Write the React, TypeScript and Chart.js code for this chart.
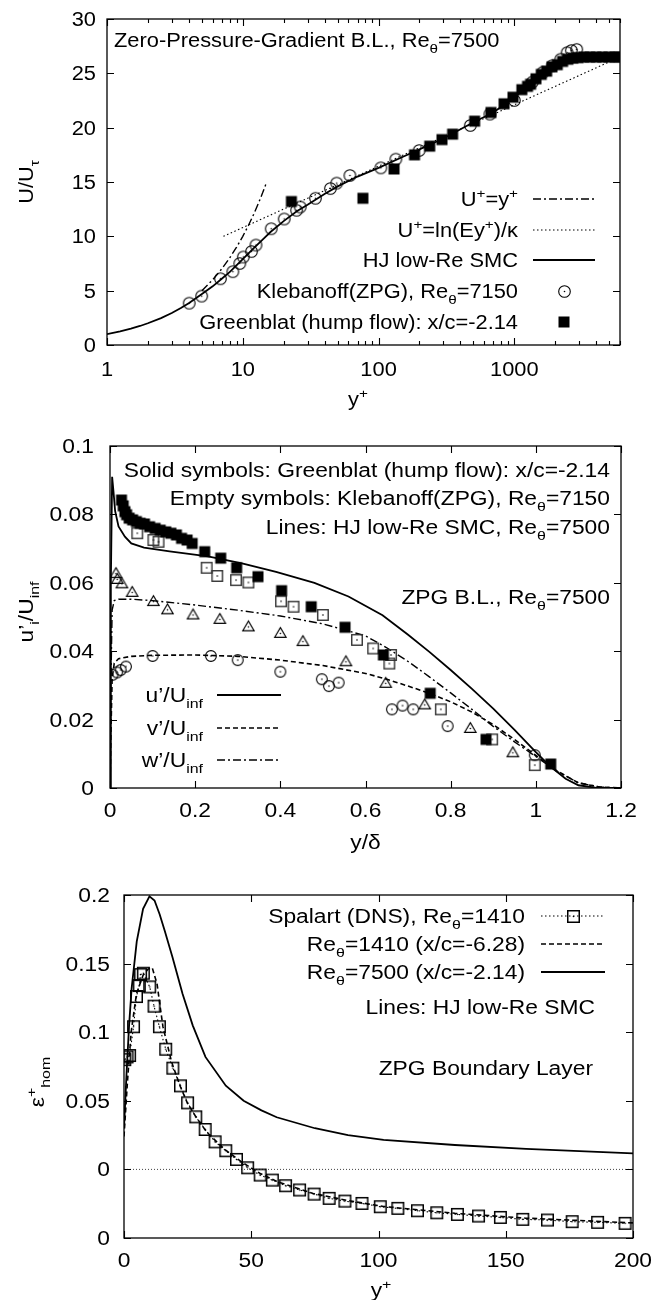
import React, { useEffect, useRef } from "react";
import { Chart, registerables } from "chart.js";
Chart.register(...registerables);

const FONT_FAMILY = '"Liberation Sans", Arial, Helvetica, sans-serif';
const F1 = { size: 19.5, sx: 1.12 };
const F23 = { size: 19.5, sx: 1.17 };

// ---------------- Panel 1 : mean velocity ----------------
const P1_X_TICKS = [1, 10, 100, 1000];
const P1_X_LABELS = ["1", "10", "100", "1000"];
const P1_Y_TICKS = [0, 5, 10, 15, 20, 25, 30];
const P1_Y_LABELS = ["0", "5", "10", "15", "20", "25", "30"];

const P1_SMC_X = [1, 1.25, 1.5, 1.75, 2, 2.5, 3, 3.5, 4, 5, 6, 7, 8, 10, 12, 14, 16, 20, 25, 30, 40, 50, 70, 100, 150, 200, 300, 500, 700, 1000, 1500, 2000, 2500, 3000, 4000, 6000];
const P1_SMC_U = [1.0, 1.25, 1.5, 1.75, 2.0, 2.48, 2.95, 3.4, 3.85, 4.7, 5.4, 6.1, 6.7, 7.9, 8.9, 9.7, 10.4, 11.4, 12.3, 12.9, 13.9, 14.6, 15.5, 16.3, 17.3, 18.0, 19.0, 20.5, 21.4, 22.8, 24.6, 25.6, 26.2, 26.45, 26.55, 26.55];

const P1_LIN_X = [5, 6, 7, 8, 9, 10, 11, 12, 13, 14, 15];
const P1_LIN_U = [5, 6, 7, 8, 9, 10, 11, 12, 13, 14, 15];

const P1_LOG_X = [7.2, 6000];
const P1_LOG_U = [10.0, 26.5];

const P1_KLEB_X = [4.03, 4.98, 6.85, 8.45, 9.5, 10.1, 11.6, 12.5, 16.2, 20.2, 24.9, 26.5, 34.3, 44.2, 49.2, 61.5, 104, 134, 199, 474, 661, 1000, 1360, 1626, 1900, 2198, 2450, 2630, 2880];
const P1_KLEB_U = [3.85, 4.5, 6.1, 6.75, 7.5, 8.1, 8.6, 9.2, 10.7, 11.6, 12.4, 12.7, 13.5, 14.4, 14.9, 15.6, 16.3, 17.1, 17.9, 20.2, 21.25, 22.5, 24.2, 25.1, 25.7, 26.3, 26.9, 27.1, 27.2];

const P1_GREEN_X = [22.8, 76.7, 130, 184, 238, 293, 351, 510, 673, 840, 977, 1136, 1250, 1318, 1443, 1579, 1729, 1893, 2072, 2267, 2480, 2700, 2950, 3250, 3600, 4000, 4450, 4950, 5500, 5900];
const P1_GREEN_U = [13.2, 13.5, 16.2, 17.5, 18.3, 18.9, 19.4, 20.6, 21.4, 22.2, 22.8, 23.5, 23.8, 24.0, 24.5, 24.9, 25.2, 25.6, 25.8, 26.1, 26.3, 26.4, 26.45, 26.5, 26.5, 26.5, 26.5, 26.5, 26.5, 26.5];

// ---------------- Panel 2 : rms fluctuations ----------------
const P2_X_TICKS = [0, 0.2, 0.4, 0.6, 0.8, 1.0, 1.2];
const P2_X_LABELS = ["0", "0.2", "0.4", "0.6", "0.8", "1", "1.2"];
const P2_Y_TICKS = [0, 0.02, 0.04, 0.06, 0.08, 0.1];
const P2_Y_LABELS = ["0", "0.02", "0.04", "0.06", "0.08", "0.1"];

const P2_U_X = [0, 0.002, 0.005, 0.008, 0.012, 0.02, 0.035, 0.05, 0.08, 0.14, 0.23, 0.31, 0.39, 0.48, 0.56, 0.64, 0.7, 0.75, 0.8, 0.85, 0.9, 0.95, 1.0, 1.035, 1.07, 1.1, 1.14, 1.2];
const P2_U_Y = [0, 0.06, 0.091, 0.087, 0.081, 0.0765, 0.0735, 0.0715, 0.0703, 0.0692, 0.0677, 0.0657, 0.0632, 0.06, 0.056, 0.0505, 0.0448, 0.0398, 0.0345, 0.029, 0.0232, 0.017, 0.0105, 0.0062, 0.0027, 0.0008, 0.0001, 0];

const P2_V_X = [0, 0.002, 0.005, 0.01, 0.02, 0.05, 0.1, 0.2, 0.3, 0.4, 0.5, 0.6, 0.65, 0.7, 0.75, 0.8, 0.85, 0.9, 0.95, 1.0, 1.05, 1.1, 1.15, 1.2];
const P2_V_Y = [0, 0.015, 0.032, 0.0365, 0.0378, 0.0385, 0.0388, 0.0389, 0.0385, 0.0374, 0.0358, 0.0335, 0.0318, 0.0298, 0.0277, 0.0252, 0.0222, 0.0185, 0.0142, 0.0095, 0.005, 0.0015, 0.0003, 0];

const P2_W_X = [0, 0.002, 0.005, 0.01, 0.02, 0.05, 0.1, 0.2, 0.3, 0.4, 0.5, 0.6, 0.65, 0.7, 0.75, 0.8, 0.85, 0.9, 0.95, 1.0, 1.05, 1.1, 1.15, 1.2];
const P2_W_Y = [0, 0.03, 0.052, 0.0548, 0.0552, 0.0552, 0.0548, 0.0535, 0.052, 0.0503, 0.048, 0.0445, 0.041, 0.037, 0.0325, 0.0278, 0.023, 0.018, 0.0135, 0.0092, 0.0048, 0.0015, 0.0003, 0];

const P2_GREEN_X = [0.027, 0.031, 0.035, 0.039, 0.045, 0.053, 0.062, 0.071, 0.081, 0.093, 0.106, 0.118, 0.131, 0.143, 0.156, 0.168, 0.181, 0.193, 0.2225, 0.26, 0.2975, 0.3475, 0.403, 0.4725, 0.552, 0.642, 0.752, 0.883, 1.035];
const P2_GREEN_Y = [0.0842, 0.0825, 0.0808, 0.0799, 0.0789, 0.0784, 0.0779, 0.0774, 0.0772, 0.0764, 0.0759, 0.0754, 0.0749, 0.0745, 0.074, 0.073, 0.0725, 0.0715, 0.0691, 0.0672, 0.0644, 0.0618, 0.0577, 0.053, 0.047, 0.0389, 0.0277, 0.0142, 0.007];

const P2_KU_X = [0.064, 0.102, 0.114, 0.227, 0.252, 0.296, 0.325, 0.4017, 0.431, 0.5, 0.58, 0.618, 0.66, 0.656, 0.777, 0.8975, 0.9975];
const P2_KU_Y = [0.0745, 0.0725, 0.072, 0.0644, 0.062, 0.0608, 0.0601, 0.0546, 0.053, 0.0506, 0.0433, 0.0408, 0.0389, 0.0364, 0.023, 0.0142, 0.0067];

const P2_KW_X = [0.014, 0.017, 0.028, 0.052, 0.102, 0.135, 0.195, 0.258, 0.325, 0.4, 0.453, 0.554, 0.6475, 0.739, 0.846, 0.946];
const P2_KW_Y = [0.0627, 0.061, 0.0597, 0.0572, 0.0545, 0.0521, 0.0506, 0.0493, 0.0471, 0.0452, 0.0428, 0.0369, 0.0306, 0.0243, 0.0174, 0.0103];

const P2_KV_X = [0.006, 0.0167, 0.025, 0.0375, 0.1, 0.237, 0.3, 0.4, 0.4975, 0.514, 0.537, 0.662, 0.687, 0.712, 0.793, 0.9975];
const P2_KV_Y = [0.0331, 0.0338, 0.0345, 0.0355, 0.0386, 0.0386, 0.0374, 0.034, 0.0318, 0.0298, 0.0308, 0.023, 0.0241, 0.023, 0.0181, 0.0096];

// ---------------- Panel 3 : dissipation ----------------
const P3_X_TICKS = [0, 50, 100, 150, 200];
const P3_X_LABELS = ["0", "50", "100", "150", "200"];
const P3_Y_TICKS = [-0.05, 0, 0.05, 0.1, 0.15, 0.2];
const P3_Y_LABELS = ["0", "0", "0.05", "0.1", "0.15", "0.2"];

const P3_DNS_X = [0.3, 1.2, 2.2, 3.75, 4.9, 6, 6.5, 7.6, 10.1, 11.8, 13.9, 16.4, 19.2, 22.2, 25, 28.2, 31.9, 35.8, 40, 44.2, 48.6, 53.5, 58.3, 63.5, 69, 74.7, 80.6, 86.8, 93.5, 100.7, 107.6, 115.3, 122.9, 131, 139.3, 147.9, 156.7, 166.4, 176.1, 186.1, 196.9];
const P3_DNS_Y = [0.08, 0.082, 0.083, 0.104, 0.126, 0.134, 0.142, 0.143, 0.133, 0.119, 0.104, 0.0876, 0.0738, 0.0609, 0.0485, 0.0383, 0.0291, 0.0201, 0.0136, 0.0073, 0.0012, -0.0041, -0.0078, -0.0119, -0.015, -0.018, -0.0211, -0.0231, -0.0248, -0.0272, -0.0284, -0.0301, -0.0316, -0.0328, -0.034, -0.035, -0.0364, -0.0369, -0.0381, -0.0386, -0.0393];

const P3_1410_X = [0, 1.4, 2.8, 4.9, 7.6, 9.5, 11.1, 13, 15.3, 18.75, 22.2, 25, 28.2, 32.6, 39.6, 46.5, 53.5, 60.4, 74.3, 88.2, 102, 130, 157.6, 200];
const P3_1410_Y = [0.024, 0.065, 0.1, 0.128, 0.142, 0.146, 0.147, 0.135, 0.104, 0.078, 0.06, 0.048, 0.0385, 0.027, 0.0145, 0.005, -0.003, -0.009, -0.0175, -0.0228, -0.027, -0.032, -0.0355, -0.039];

const P3_7500_X = [0, 1, 2, 3, 5, 7.5, 10, 12, 14, 16, 19, 23, 27, 32, 40, 47, 54, 60, 75, 88, 102, 130, 158, 200];
const P3_7500_Y = [0.03, 0.07, 0.105, 0.132, 0.166, 0.19, 0.199, 0.196, 0.186, 0.174, 0.155, 0.128, 0.105, 0.082, 0.061, 0.05, 0.043, 0.038, 0.03, 0.025, 0.0215, 0.0178, 0.015, 0.0117];

const P3_ZERO_X = [0, 200];
const P3_ZERO_Y = [0, 0];

// ---------------- helpers ----------------
const pts = (xs: number[], ys: number[]) => xs.map((x, i) => ({ x, y: ys[i] }));

type Seg = { t: string; k: number };
type Fnt = { size: number; sx: number };
function parseRich(s: string): Seg[] {
  const out: Seg[] = [];
  let i = 0;
  let buf = "";
  while (i < s.length) {
    const c = s[i];
    if ((c === "^" || c === "_") && s[i + 1] === "{") {
      if (buf) { out.push({ t: buf, k: 0 }); buf = ""; }
      const end = s.indexOf("}", i);
      out.push({ t: s.slice(i + 2, end), k: c === "^" ? 1 : -1 });
      i = end + 1;
    } else { buf += c; i++; }
  }
  if (buf) out.push({ t: buf, k: 0 });
  return out;
}

function drawRich(ctx: CanvasRenderingContext2D, text: string, x: number, cy: number, align: string, f: Fnt, rotate = false) {
  const segs = parseRich(text);
  const size = f.size;
  ctx.save();
  ctx.translate(x, cy);
  if (rotate) ctx.rotate(-Math.PI / 2);
  ctx.scale(f.sx, 1);
  let w = 0;
  for (const s of segs) {
    ctx.font = `${s.k ? size * 0.7 : size}px ${FONT_FAMILY}`;
    w += ctx.measureText(s.t).width;
  }
  let px = align === "left" ? 0 : align === "right" ? -w : -w / 2;
  const base = size * 0.36;
  ctx.fillStyle = "#000";
  ctx.textBaseline = "alphabetic";
  ctx.textAlign = "left";
  for (const s of segs) {
    const fs = s.k ? size * 0.7 : size;
    ctx.font = `${fs}px ${FONT_FAMILY}`;
    const dy = s.k === 1 ? -size * 0.42 : s.k === -1 ? size * 0.3 : 0;
    ctx.fillText(s.t, px, base + dy);
    px += ctx.measureText(s.t).width;
  }
  ctx.restore();
}

function makeMarker(kind: string, size: number, color = "#000", lw = 1.3): HTMLCanvasElement {
  const c = document.createElement("canvas");
  const dim = Math.ceil(size) + 5;
  c.width = dim;
  c.height = dim;
  const g = c.getContext("2d") as CanvasRenderingContext2D;
  const m = dim / 2;
  g.strokeStyle = color;
  g.fillStyle = "#000";
  g.lineWidth = lw;
  if (kind === "circle") {
    g.beginPath(); g.arc(m, m, size / 2, 0, Math.PI * 2); g.stroke();
  } else if (kind === "square") {
    g.strokeRect(m - size / 2, m - size / 2, size, size);
  } else if (kind === "fsquare") {
    g.fillRect(m - size / 2, m - size / 2, size, size);
  } else if (kind === "tri") {
    const h = size * 0.85;
    g.beginPath();
    g.moveTo(m, m - h * 0.6);
    g.lineTo(m + size / 2, m + h * 0.4);
    g.lineTo(m - size / 2, m + h * 0.4);
    g.closePath();
    g.stroke();
  }
  if (kind !== "fsquare") {
    g.beginPath(); g.arc(m, m, 0.8, 0, Math.PI * 2); g.fill();
  }
  return c;
}

type Sample = { dash: number[]; width: number; marker?: HTMLCanvasElement | null; line: boolean };
function drawSample(ctx: CanvasRenderingContext2D, x1: number, x2: number, y: number, s: Sample) {
  ctx.save();
  if (s.line) {
    ctx.strokeStyle = "#000";
    ctx.lineWidth = s.width;
    ctx.setLineDash(s.dash);
    ctx.beginPath(); ctx.moveTo(x1, y); ctx.lineTo(x2, y); ctx.stroke();
  }
  if (s.marker) {
    const m = s.marker;
    ctx.drawImage(m, Math.round((x1 + x2) / 2 - m.width / 2), Math.round(y - m.height / 2));
  }
  ctx.restore();
}

type AxisDeco = {
  xMajor: number[]; xLabels: string[]; xMinor?: number[];
  yMajor: number[]; yLabels: string[];
  xLabelOff: number; yLabelGap: number; font: Fnt;
};

function drawFrameAndTicks(chart: any, d: AxisDeco) {
  const ctx: CanvasRenderingContext2D = chart.ctx;
  const a = chart.chartArea;
  const xs = chart.scales.x;
  const ys = chart.scales.y;
  ctx.save();
  ctx.strokeStyle = "#000";
  ctx.lineWidth = 1.3;
  ctx.setLineDash([]);
  ctx.strokeRect(a.left, a.top, a.right - a.left, a.bottom - a.top);
  ctx.lineWidth = 1.1;
  const tickX = (v: number, len: number) => {
    const p = Math.round(xs.getPixelForValue(v)) + 0.5;
    ctx.beginPath();
    ctx.moveTo(p, a.bottom); ctx.lineTo(p, a.bottom - len);
    ctx.moveTo(p, a.top); ctx.lineTo(p, a.top + len);
    ctx.stroke();
  };
  const tickY = (v: number, len: number) => {
    const p = Math.round(ys.getPixelForValue(v)) + 0.5;
    ctx.beginPath();
    ctx.moveTo(a.left, p); ctx.lineTo(a.left + len, p);
    ctx.moveTo(a.right, p); ctx.lineTo(a.right - len, p);
    ctx.stroke();
  };
  d.xMajor.forEach((v) => tickX(v, 7));
  (d.xMinor || []).forEach((v) => tickX(v, 4));
  d.yMajor.forEach((v) => tickY(v, 7));
  ctx.restore();
  d.xMajor.forEach((v, i) => drawRich(ctx, d.xLabels[i], xs.getPixelForValue(v), a.bottom + d.xLabelOff, "center", d.font));
  d.yMajor.forEach((v, i) => drawRich(ctx, d.yLabels[i], a.left - d.yLabelGap, ys.getPixelForValue(v), "right", d.font));
}

function baseOptions(L: number, R: number, T: number, B: number, W: number, H: number, xScale: any, yScale: any) {
  return {
    responsive: false,
    animation: false,
    devicePixelRatio: 1,
    layout: { padding: { left: 0, right: W - R, top: T, bottom: 0 } },
    plugins: { legend: { display: false }, tooltip: { enabled: false }, title: { display: false } },
    scales: {
      x: {
        ...xScale,
        grid: { display: false, drawTicks: false },
        border: { display: false },
        ticks: { display: false },
        afterFit: (s: any) => { s.height = H - B; },
      },
      y: {
        ...yScale,
        grid: { display: false, drawTicks: false },
        border: { display: false },
        ticks: { display: false },
        afterFit: (s: any) => { s.width = L; },
      },
    },
  };
}

const W = 672;
const H1 = 420, H2 = 440, H3 = 440;
const TOP2 = 420, TOP3 = 860;

export default function App() {
  const c1 = useRef<HTMLCanvasElement>(null);
  const c2 = useRef<HTMLCanvasElement>(null);
  const c3 = useRef<HTMLCanvasElement>(null);

  useEffect(() => {
    const mCircle1 = makeMarker("circle", 11.6, "#000", 1.1);
    const mFSq1 = makeMarker("fsquare", 11);
    const mCircle2 = makeMarker("circle", 10.8, "#000", 1.1);
    const mSq2 = makeMarker("square", 10.5, "#333", 1.4);
    const mFSq2 = makeMarker("fsquare", 11);
    const mTri2 = makeMarker("tri", 11.5, "#000", 1.1);
    const mSq3 = makeMarker("square", 11.5, "#000", 1.5);

    const SOLID = { dash: [] as number[], width: 1.8 };
    const DASH = { dash: [5, 3], width: 1.6 };
    const DASHDOT = { dash: [8, 3, 2, 3], width: 1.4 };
    const DOT = { dash: [1.5, 2.5], width: 1.1 };

    const lineDs = (data: any[], st: any) => ({
      data, showLine: true, pointRadius: 0, borderColor: "#000", backgroundColor: "#000",
      borderWidth: st.width, borderDash: st.dash, tension: 0, fill: false,
    });
    const ptDs = (data: any[], marker: HTMLCanvasElement) => ({
      data, showLine: false, pointRadius: 5, pointStyle: marker, borderColor: "#000", backgroundColor: "#000",
    });

    // ---------- Panel 1 ----------
    const L1 = 107, R1 = 620, T1 = 19, B1 = 345;
    const minor1: number[] = [];
    for (const dec of [1, 10, 100, 1000]) for (let m = 2; m <= 9; m++) if (dec * m <= 6000) minor1.push(dec * m);
    const chart1 = new Chart(c1.current as HTMLCanvasElement, {
      type: "scatter",
      data: {
        datasets: [
          ptDs(pts(P1_GREEN_X, P1_GREEN_U), mFSq1),
          ptDs(pts(P1_KLEB_X, P1_KLEB_U), mCircle1),
          lineDs(pts(P1_SMC_X, P1_SMC_U), SOLID),
          lineDs(pts(P1_LOG_X, P1_LOG_U), DOT),
          lineDs(pts(P1_LIN_X, P1_LIN_U), DASHDOT),
        ] as any,
      },
      options: baseOptions(L1, R1, T1, B1, W, H1, { type: "logarithmic", min: 1, max: 6000 }, { type: "linear", min: 0, max: 30 }) as any,
      plugins: [{
        id: "deco1",
        afterDraw(chart: any) {
          const ctx = chart.ctx;
          drawFrameAndTicks(chart, { xMajor: P1_X_TICKS, xLabels: P1_X_LABELS, xMinor: minor1, yMajor: P1_Y_TICKS, yLabels: P1_Y_LABELS, xLabelOff: 24, yLabelGap: 11, font: F1 });
          drawRich(ctx, "U/U_{τ}", 26, 182, "center", F1, true);
          drawRich(ctx, "y^{+}", 358, 399, "center", F1);
          drawRich(ctx, "Zero-Pressure-Gradient B.L., Re_{θ}=7500", 114, 40, "left", F1);
          const rows = [
            { t: "U^{+}=y^{+}", s: { ...DASHDOT, line: true } },
            { t: "U^{+}=ln(Ey^{+})/κ", s: { ...DOT, line: true } },
            { t: "HJ low-Re SMC", s: { ...SOLID, line: true } },
            { t: "Klebanoff(ZPG), Re_{θ}=7150", s: { dash: [], width: 1, line: false, marker: mCircle1 } },
            { t: "Greenblat (hump flow): x/c=-2.14", s: { dash: [], width: 1, line: false, marker: mFSq1 } },
          ];
          const ys = [199, 230, 260, 291, 322];
          rows.forEach((r, i) => {
            drawRich(ctx, r.t, 518, ys[i], "right", F1);
            drawSample(ctx, 533, 595, ys[i], r.s as Sample);
          });
        },
      }],
    });

    // ---------- Panel 2 ----------
    const L2 = 110, R2 = 621, T2 = 26, B2 = 368;
    const chart2 = new Chart(c2.current as HTMLCanvasElement, {
      type: "scatter",
      data: {
        datasets: [
          ptDs(pts(P2_GREEN_X, P2_GREEN_Y), mFSq2),
          ptDs(pts(P2_KU_X, P2_KU_Y), mSq2),
          ptDs(pts(P2_KW_X, P2_KW_Y), mTri2),
          ptDs(pts(P2_KV_X, P2_KV_Y), mCircle2),
          lineDs(pts(P2_U_X, P2_U_Y), SOLID),
          lineDs(pts(P2_V_X, P2_V_Y), DASH),
          lineDs(pts(P2_W_X, P2_W_Y), DASHDOT),
        ] as any,
      },
      options: baseOptions(L2, R2, T2, B2, W, H2, { type: "linear", min: 0, max: 1.2 }, { type: "linear", min: 0, max: 0.1 }) as any,
      plugins: [{
        id: "deco2",
        afterDraw(chart: any) {
          const ctx = chart.ctx;
          const a = chart.chartArea;
          drawFrameAndTicks(chart, { xMajor: P2_X_TICKS, xLabels: P2_X_LABELS, yMajor: P2_Y_TICKS, yLabels: P2_Y_LABELS, xLabelOff: 22, yLabelGap: 16, font: F23 });
          drawRich(ctx, "u’_{i}/U_{inf}", 26, 192, "center", F23, true);
          drawRich(ctx, "y/δ", (a.left + a.right) / 2, 422, "center", F23);
          drawRich(ctx, "Solid symbols: Greenblat (hump flow): x/c=-2.14", 610, 50, "right", F23);
          drawRich(ctx, "Empty symbols: Klebanoff(ZPG), Re_{θ}=7150", 610, 78, "right", F23);
          drawRich(ctx, "Lines: HJ low-Re SMC, Re_{θ}=7500", 610, 107, "right", F23);
          drawRich(ctx, "ZPG B.L., Re_{θ}=7500", 610, 177, "right", F23);
          const rows = [
            { t: "u’/U_{inf}", s: { ...SOLID, line: true } },
            { t: "v’/U_{inf}", s: { ...DASH, line: true } },
            { t: "w’/U_{inf}", s: { ...DASHDOT, line: true } },
          ];
          const ys = [275, 308, 340];
          rows.forEach((r, i) => {
            drawRich(ctx, r.t, 203, ys[i], "right", F23);
            drawSample(ctx, 217, 281, ys[i], r.s as Sample);
          });
        },
      }],
    });

    // ---------- Panel 3 ----------
    const L3 = 124, R3 = 633, T3 = 35, B3 = 378;
    const chart3 = new Chart(c3.current as HTMLCanvasElement, {
      type: "scatter",
      data: {
        datasets: [
          { ...ptDs(pts(P3_DNS_X, P3_DNS_Y), mSq3), showLine: true, borderWidth: DOT.width, borderDash: DOT.dash },
          lineDs(pts(P3_1410_X, P3_1410_Y), DASH),
          lineDs(pts(P3_7500_X, P3_7500_Y), SOLID),
          { ...lineDs(pts(P3_ZERO_X, P3_ZERO_Y), { dash: [1, 2], width: 1 }), borderColor: "#444" },
        ] as any,
      },
      options: baseOptions(L3, R3, T3, B3, W, H3, { type: "linear", min: 0, max: 200 }, { type: "linear", min: -0.05, max: 0.2 }) as any,
      plugins: [{
        id: "deco3",
        afterDraw(chart: any) {
          const ctx = chart.ctx;
          drawFrameAndTicks(chart, { xMajor: P3_X_TICKS, xLabels: P3_X_LABELS, yMajor: P3_Y_TICKS, yLabels: P3_Y_LABELS, xLabelOff: 22, yLabelGap: 14, font: F23 });
          drawRich(ctx, "ε^{+}_{hom}", 37, 222, "center", F23, true);
          drawRich(ctx, "y^{+}", 381, 430, "center", F23);
          const rows = [
            { t: "Spalart (DNS), Re_{θ}=1410", s: { ...DOT, line: true, marker: mSq3 } },
            { t: "Re_{θ}=1410 (x/c=-6.28)", s: { ...DASH, line: true } },
            { t: "Re_{θ}=7500 (x/c=-2.14)", s: { ...SOLID, line: true } },
          ];
          const ys = [56, 84, 112];
          rows.forEach((r, i) => {
            drawRich(ctx, r.t, 525, ys[i], "right", F23);
            drawSample(ctx, 541, 605, ys[i], r.s as Sample);
          });
          drawRich(ctx, "Lines: HJ low-Re SMC", 595, 147, "right", F23);
          drawRich(ctx, "ZPG Boundary Layer", 593, 208, "right", F23);
        },
      }],
    });

    return () => {
      chart1.destroy();
      chart2.destroy();
      chart3.destroy();
    };
  }, []);

  const cs = (top: number, h: number): React.CSSProperties => ({ position: "absolute", left: 0, top, width: W, height: h, display: "block" });
  return (
    <div style={{ position: "absolute", left: 0, top: 0, width: W, height: 1300, background: "#fff" }}>
      <canvas ref={c1} width={W} height={H1} style={cs(0, H1)} />
      <canvas ref={c2} width={W} height={H2} style={cs(TOP2, H2)} />
      <canvas ref={c3} width={W} height={H3} style={cs(TOP3, H3)} />
    </div>
  );
}
